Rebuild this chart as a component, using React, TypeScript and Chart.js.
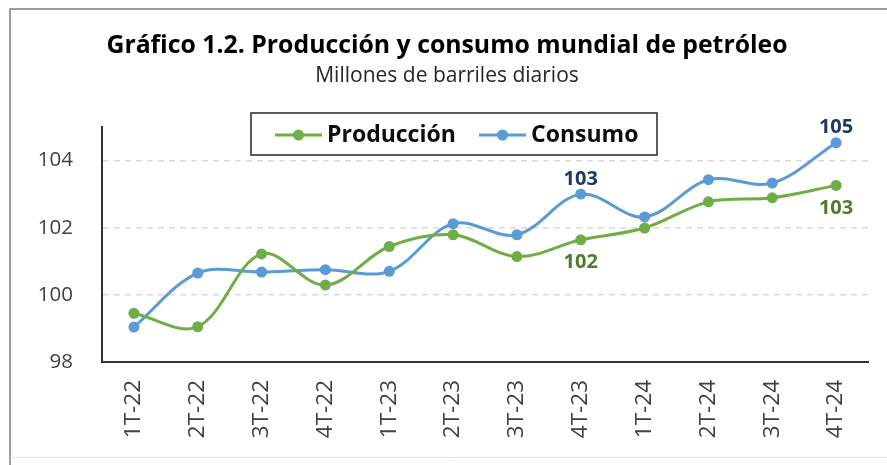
import React, { useEffect, useRef } from "react";
import { Chart, registerables } from "chart.js";

Chart.register(...registerables);

const categories = ["1T-22", "2T-22", "3T-22", "4T-22", "1T-23", "2T-23", "3T-23", "4T-23", "1T-24", "2T-24", "3T-24", "4T-24"];
const produccion = [99.45, 99.05, 101.22, 100.29, 101.44, 101.79, 101.14, 101.64, 101.99, 102.77, 102.89, 103.26];
const consumo = [99.04, 100.65, 100.68, 100.75, 100.7, 102.12, 101.79, 103.0, 102.32, 103.43, 103.33, 104.53];
const produccionLabels = [null, null, null, null, null, null, null, "102", null, null, null, "103"];
const consumoLabels = [null, null, null, null, null, null, null, "103", null, null, null, "105"];
const yTicks = [98, 100, 102, 104];
const yMin = 98;
const yMax = 105;
const titleText = "Gráfico 1.2. Producción y consumo mundial de petróleo";
const subtitleText = "Millones de barriles diarios";
const seriesNames = ["Producción", "Consumo"];

const GREEN = "#70AD47";
const BLUE = "#5B9BD5";
const GREEN_LABEL = "#4E7D2A";
const BLUE_LABEL = "#1F3864";
const FONT = "'Open Sans', 'Noto Sans', sans-serif";

const pointLabelsPlugin = {
  id: "pointLabels",
  afterDatasetsDraw(chart: any) {
    const ctx = chart.ctx;
    const sets = [
      { labels: produccionLabels, color: GREEN_LABEL, dy: 23 },
      { labels: consumoLabels, color: BLUE_LABEL, dy: -15 },
    ];
    sets.forEach((s, di) => {
      const meta = chart.getDatasetMeta(di);
      s.labels.forEach((txt, i) => {
        if (!txt) return;
        const el = meta.data[i];
        ctx.save();
        ctx.font = `bold 20px ${FONT}`;
        ctx.fillStyle = s.color;
        ctx.textAlign = "center";
        ctx.textBaseline = "middle";
        ctx.fillText(txt, el.x, el.y + s.dy);
        ctx.restore();
      });
    });
  },
};

const customLegendPlugin = {
  id: "customLegend",
  afterDraw(chart: any) {
    const ctx = chart.ctx;
    const left = 251;
    const top = 113;
    const w = 406;
    const h = 42;
    ctx.save();
    ctx.fillStyle = "#ffffff";
    ctx.fillRect(left, top, w, h);
    ctx.strokeStyle = "#262626";
    ctx.lineWidth = 1.5;
    ctx.strokeRect(left, top, w, h);
    const items = [
      { x: 275, color: GREEN, text: seriesNames[0] },
      { x: 479, color: BLUE, text: seriesNames[1] },
    ];
    const cy = top + 22;
    items.forEach((it) => {
      ctx.strokeStyle = it.color;
      ctx.lineWidth = 3;
      ctx.beginPath();
      ctx.moveTo(it.x, cy);
      ctx.lineTo(it.x + 47, cy);
      ctx.stroke();
      ctx.fillStyle = it.color;
      ctx.beginPath();
      ctx.arc(it.x + 23.5, cy, 5.5, 0, Math.PI * 2);
      ctx.fill();
      ctx.fillStyle = "#0d0d0d";
      ctx.font = `bold 23px ${FONT}`;
      ctx.textAlign = "left";
      ctx.textBaseline = "middle";
      ctx.fillText(it.text, it.x + 52, cy);
    });
    ctx.restore();
  },
};

const framePlugin = {
  id: "frame",
  afterDraw(chart: any) {
    const ctx = chart.ctx;
    ctx.save();
    ctx.strokeStyle = "#7f7f7f";
    ctx.lineWidth = 1.5;
    ctx.beginPath();
    ctx.moveTo(10, chart.height);
    ctx.lineTo(10, 9);
    ctx.lineTo(chart.width, 9);
    ctx.stroke();
    ctx.strokeStyle = "#e3e3e3";
    ctx.lineWidth = 1;
    ctx.beginPath();
    ctx.moveTo(10, 457.5);
    ctx.lineTo(chart.width, 457.5);
    ctx.stroke();
    ctx.restore();
  },
};

export default function App() {
  const canvasRef = useRef<HTMLCanvasElement | null>(null);

  useEffect(() => {
    if (!canvasRef.current) return;
    const chart = new Chart(canvasRef.current, {
      type: "line",
      data: {
        labels: categories,
        datasets: [
          {
            label: seriesNames[0],
            data: produccion,
            borderColor: GREEN,
            backgroundColor: GREEN,
            borderWidth: 3,
            pointRadius: 5.5,
            pointHoverRadius: 5.5,
            pointBorderWidth: 0,
            tension: 0.35,
          },
          {
            label: seriesNames[1],
            data: consumo,
            borderColor: BLUE,
            backgroundColor: BLUE,
            borderWidth: 3,
            pointRadius: 5.5,
            pointHoverRadius: 5.5,
            pointBorderWidth: 0,
            tension: 0.35,
          },
        ],
      },
      options: {
        animation: false,
        responsive: true,
        maintainAspectRatio: false,
        layout: { padding: { left: 26, right: 19, top: 11, bottom: 0 } },
        plugins: {
          legend: { display: false },
          tooltip: { enabled: false },
          title: {
            display: true,
            text: titleText,
            color: "#000000",
            font: { family: FONT, size: 24.8, weight: "bold", lineHeight: 1.2 },
            padding: { top: 20, bottom: 0 },
          },
          subtitle: {
            display: true,
            text: subtitleText,
            color: "#262626",
            font: { family: FONT, size: 21, weight: "normal", lineHeight: 1.2 },
            padding: { top: 3, bottom: 38 },
          },
        },
        scales: {
          x: {
            type: "category",
            offset: true,
            grid: { display: false, drawTicks: false },
            border: { display: true, color: "#333333", width: 2 },
            ticks: {
              color: "#404040",
              font: { family: FONT, size: 22.5 },
              minRotation: 90,
              maxRotation: 90,
              padding: 18,
              autoSkip: false,
            },
            afterFit(scale: any) {
              scale.height = 103;
            },
          },
          y: {
            type: "linear",
            min: yMin,
            max: yMax,
            afterBuildTicks(scale: any) {
              scale.ticks = yTicks.map((v) => ({ value: v }));
            },
            afterFit(scale: any) {
              scale.width = 76;
            },
            grid: {
              drawTicks: false,
              color: (c: any) => (c.tick && c.tick.value === yMin ? "rgba(0,0,0,0)" : "#D9D9D9"),
              lineWidth: 1.5,
            },
            border: { display: true, color: "#333333", width: 2, dash: [6, 5] },
            ticks: {
              color: "#404040",
              font: { family: FONT, size: 20.5 },
              padding: 29,
            },
          },
        },
      },
      plugins: [pointLabelsPlugin, customLegendPlugin, framePlugin],
    });
    return () => chart.destroy();
  }, []);

  return (
    <div style={{ position: "fixed", left: 0, top: 0, width: 887, height: 465, background: "#ffffff" }}>
      <canvas ref={canvasRef} />
    </div>
  );
}
